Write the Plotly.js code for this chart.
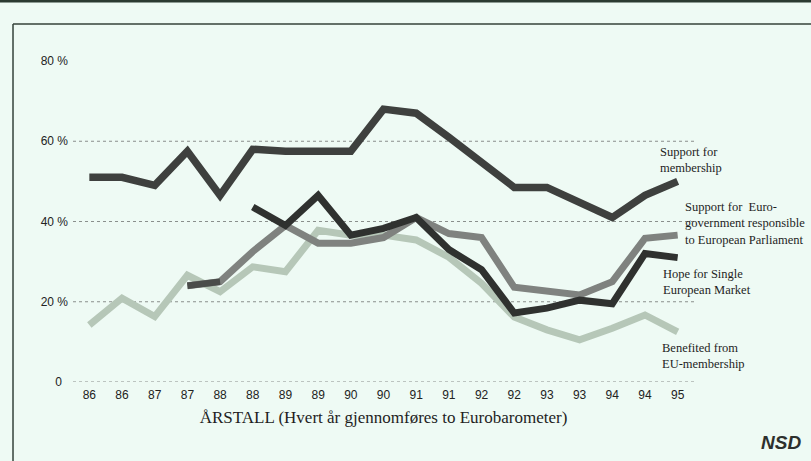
<!DOCTYPE html>
<html>
<head>
<meta charset="utf-8">
<script src="https://cdn.plot.ly/plotly-3.0.1.min.js"></script>
<style>
html,body{margin:0;padding:0;background:#eefaf4;}
#chart{width:811px;height:461px;}
</style>
</head>
<body>
<div id="chart"></div>
<script>
// Survey rounds (two Eurobarometer surveys per year)
const years = ['86','86','87','87','88','88','89','89','90','90','91','91','92','92','93','93','94','94','95'];
// Values in percent
const supportMembership = [51,51,49,57.5,46.5,58,57.5,57.5,57.5,68,67,61,55,48.5,48.5,45,41,46.5,50];
const euroGovernment    = [null,null,null,24,25,32.5,39,34.6,34.6,36,41,37,36,23.6,22.5,21.7,25,35.8,36.6];
const hopeSingleMarket  = [null,null,null,null,null,43.6,39,46.5,36.6,38.3,41,33,28,17.2,18.4,20.4,19.5,32,31];
const hopeEarly         = [null,null,null,24,25,null,null,null,null,null,null,null,null,null,null,null,null,null,null];
const benefited         = [14.2,20.9,16.3,26.6,22.5,28.7,27.5,37.8,36.6,36.6,35.4,31.1,24.6,16.2,13,10.5,13.4,16.7,12.5];
const yTicks = [0,20,40,60,80];
const yTickText = ['0\u2002','20 %','40 %','60 %','80 %'];
const gridLevels = [0,20,40,60];

const idx = years.map((_, i) => i);

function tr(vals, color, width, name){
  return {x: idx, y: vals, type:'scatter', mode:'lines', name: name,
          line:{color: color, width: width, shape:'linear'}, connectgaps:false, hoverinfo:'skip'};
}

const data = [
  tr(benefited, '#b6c7b8', 7, 'Benefited from EU-membership'),
  tr(euroGovernment, '#7f827f', 7, 'Support for Euro-government'),
  tr(hopeEarly, '#4a4c4a', 6.5, 'Hope (early)'),
  tr(hopeSingleMarket, '#2f312f', 7, 'Hope for Single European Market'),
  tr(supportMembership, '#3e403e', 7.5, 'Support for membership')
];

const shapes = gridLevels.map(v => ({
  type:'line', xref:'paper', yref:'y', x0:0, x1:1, y0:v, y1:v,
  line:{color:'#8a8f8c', width:1, dash:'dot'}, layer:'below'
}));
// frame
shapes.push({type:'line', xref:'paper', yref:'paper', x0:-0.0966, x1:1.19, y0:1.115, y1:1.115, line:{color:'#34423a', width:1.5}});
shapes.push({type:'line', xref:'paper', yref:'paper', x0:-0.0966, x1:-0.0966, y0:1.115, y1:-0.25, line:{color:'#34423a', width:1.5}});
shapes.push({type:'line', xref:'paper', yref:'paper', x0:-0.12, x1:1.19, y0:1.187, y1:1.187, line:{color:'#2b3a31', width:3}});

function px2x(p){ return (p-73)/621; }
function py2y(p){ return (382-p)/321; }
function lab(text, px, py){
  return {text:text, xref:'paper', yref:'paper', x:px2x(px), y:py2y(py), xanchor:'left', yanchor:'middle',
          align:'left', showarrow:false, borderpad:0,
          font:{family:'Liberation Serif, Times New Roman, serif', size:12.5, color:'#1e1e1e'}};
}
const annotations = [
  lab('Support for<br>membership', 659, 160),
  lab('Support for  Euro-<br>government responsible<br>to European Parliament', 684, 223),
  lab('Hope for Single<br>European Market', 662, 281.5),
  lab('Benefited from<br>EU-membership', 661, 355.5),
  {text:'<b><i>NSD</i></b>', xref:'paper', yref:'paper', x:px2x(781), y:py2y(443), xanchor:'center', yanchor:'middle',
   showarrow:false, font:{family:'Liberation Sans, Arial, sans-serif', size:19, color:'#2d302d'}}
];

const layout = {
  width:811, height:461,
  margin:{l:73, r:117, t:61, b:79, pad:0},
  paper_bgcolor:'#eefaf4', plot_bgcolor:'#eefaf4',
  showlegend:false,
  xaxis:{
    range:[-0.5,18.5], tickmode:'array', tickvals:idx, ticktext:years,
    showgrid:false, zeroline:false, showline:false, ticks:'', ticklabelstandoff:4,
    tickfont:{family:'Liberation Sans, Arial, sans-serif', size:12, color:'#222'},
    title:{text:'ÅRSTALL (Hvert år gjennomføres to Eurobarometer)', standoff:10,
           font:{family:'Liberation Serif, Times New Roman, serif', size:17, color:'#1e1e1e'}},
    fixedrange:true
  },
  yaxis:{
    range:[0,80], tickmode:'array', tickvals:yTicks, ticktext:yTickText,
    showgrid:false, zeroline:false, showline:false, ticks:'', ticklabelstandoff:4,
    tickfont:{family:'Liberation Sans, Arial, sans-serif', size:12, color:'#222'},
    fixedrange:true
  },
  shapes:shapes,
  annotations:annotations
};

Plotly.newPlot('chart', data, layout, {displayModeBar:false, staticPlot:true});
</script>
</body>
</html>
